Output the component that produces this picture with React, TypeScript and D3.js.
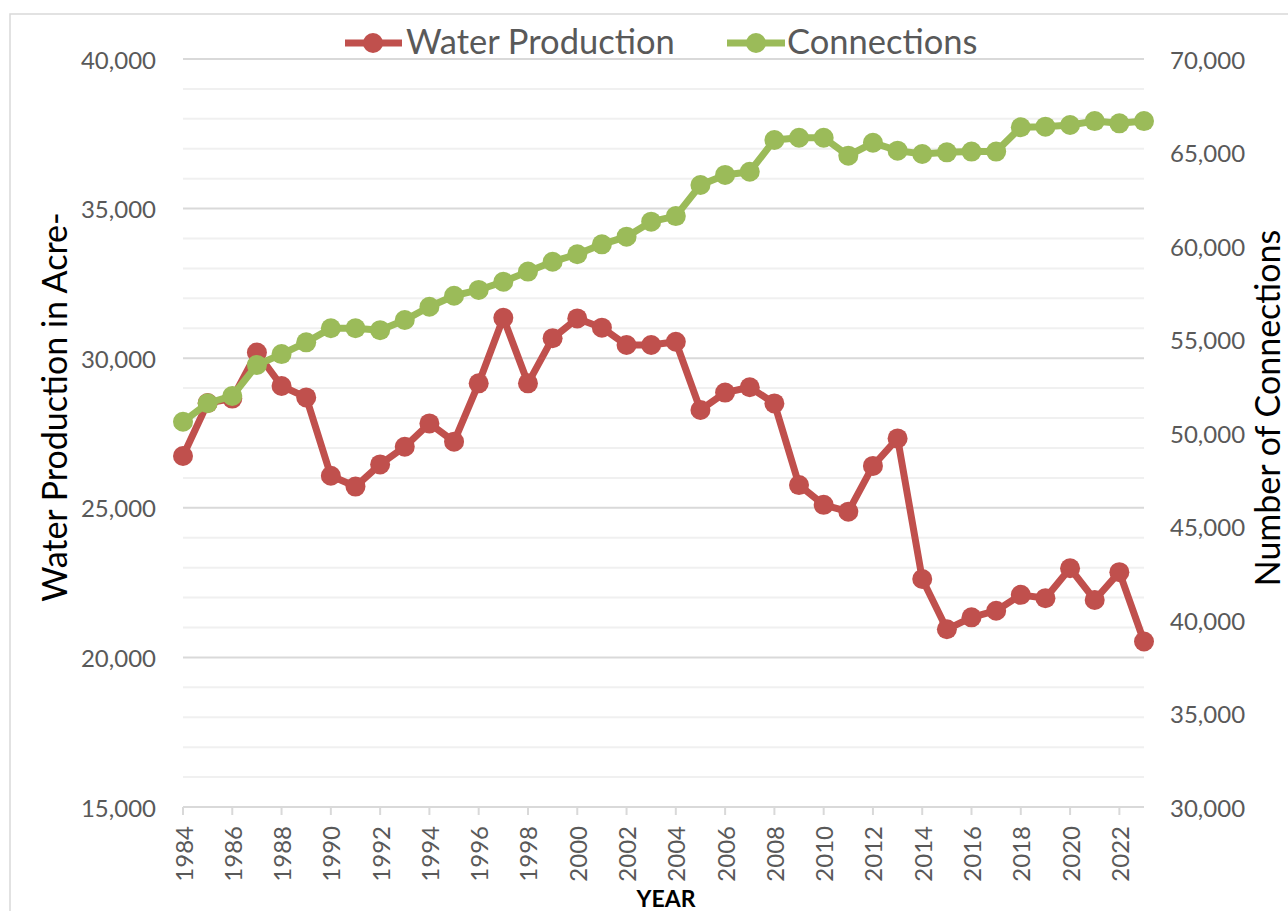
import React from "react";
import * as d3 from "d3";

const years = [
  1984, 1985, 1986, 1987, 1988, 1989, 1990, 1991, 1992, 1993,
  1994, 1995, 1996, 1997, 1998, 1999, 2000, 2001, 2002, 2003,
  2004, 2005, 2006, 2007, 2008, 2009, 2010, 2011, 2012, 2013,
  2014, 2015, 2016, 2017, 2018, 2019, 2020, 2021, 2022, 2023,
];

const waterProduction = [
  26730, 28500, 28650, 30190, 29070, 28690, 26070, 25710, 26450, 27040,
  27820, 27210, 29160, 31350, 29160, 30670, 31330, 31020, 30440, 30440,
  30550, 28270, 28850, 29030, 28490, 25760, 25100, 24870, 26400, 27320,
  22620, 20940, 21340, 21560, 22090, 21980, 22980, 21920, 22850, 20530,
];

const connections = [
  50600, 51590, 51980, 53640, 54220, 54850, 55600, 55600, 55500, 56040,
  56750, 57340, 57650, 58090, 58630, 59160, 59560, 60090, 60500, 61300,
  61600, 63260, 63800, 63970, 65670, 65790, 65790, 64830, 65520, 65100,
  64920, 65010, 65050, 65050, 66350, 66380, 66470, 66680, 66560, 66680,
];

const leftTicks = [15000, 20000, 25000, 30000, 35000, 40000];
const rightTicks = [30000, 35000, 40000, 45000, 50000, 55000, 60000, 65000, 70000];
const xTickYears = [1984, 1986, 1988, 1990, 1992, 1994, 1996, 1998, 2000, 2002, 2004, 2006, 2008, 2010, 2012, 2014, 2016, 2018, 2020, 2022];

const seriesNames = ["Water Production", "Connections"];
const leftTitle = "Water Production in Acre-";
const rightTitle = "Number of Connections";
const xTitle = "YEAR";

const RED = "#C0504D";
const GREEN = "#9BBB59";
const TICK_COLOR = "#595959";
const FONT = "Lato, 'Open Sans', 'Liberation Sans', sans-serif";

export default function App() {
  const W = 1288;
  const H = 911;
  const left = 183;
  const right = 1144;
  const top = 59;
  const bottom = 807;

  const x = d3.scaleLinear().domain([1984, 2023]).range([left, right]);
  const yL = d3.scaleLinear().domain([15000, 40000]).range([bottom, top]);
  const yR = d3.scaleLinear().domain([30000, 70000]).range([bottom, top]);

  const grid = d3.range(15000, 40001, 1000);
  const fmt = d3.format(",");

  const lineL = d3
    .line<number>()
    .x((_, i) => x(years[i]))
    .y((d) => yL(d));
  const lineR = d3
    .line<number>()
    .x((_, i) => x(years[i]))
    .y((d) => yR(d));

  return (
    <svg
      width={W}
      height={H}
      style={{ position: "absolute", left: 0, top: 0, background: "#fff" }}
      fontFamily={FONT}
    >
      <rect x={0} y={0} width={W} height={H} fill="#fff" />
      <rect x={10} y={14} width={W + 20} height={H + 20} fill="#fff" stroke="#D9D9D9" strokeWidth={1.5} />

      {/* gridlines */}
      {grid.map((v) => (
        <line
          key={v}
          x1={left}
          x2={right}
          y1={yL(v)}
          y2={yL(v)}
          stroke={v % 5000 === 0 ? "#D9D9D9" : "#F0F0F0"}
          strokeWidth={2}
        />
      ))}

      {/* x tick marks */}
      {xTickYears.map((yr) => (
        <line key={yr} x1={x(yr)} x2={x(yr)} y1={bottom} y2={bottom + 8} stroke="#D9D9D9" strokeWidth={2} />
      ))}

      {/* left tick labels */}
      {leftTicks.map((v) => (
        <text key={v} x={156} y={yL(v)} textAnchor="end" dominantBaseline="central" fontSize={24} fill={TICK_COLOR}>
          {fmt(v)}
        </text>
      ))}

      {/* right tick labels */}
      {rightTicks.map((v) => (
        <text key={v} x={1170} y={yR(v)} textAnchor="start" dominantBaseline="central" fontSize={24} fill={TICK_COLOR}>
          {fmt(v)}
        </text>
      ))}

      {/* x tick labels */}
      {xTickYears.map((yr) => (
        <text
          key={yr}
          transform={`translate(${x(yr)},${bottom + 19}) rotate(-90)`}
          textAnchor="end"
          dominantBaseline="central"
          fontSize={24}
          fill={TICK_COLOR}
        >
          {yr}
        </text>
      ))}

      {/* axis titles */}
      <text transform={`translate(67,407) rotate(-90)`} textAnchor="middle" fontSize={34} fill="#000">
        {leftTitle}
      </text>
      <text transform={`translate(1280,408) rotate(-90)`} textAnchor="middle" fontSize={34} fill="#000">
        {rightTitle}
      </text>
      <text x={666} y={907} textAnchor="middle" fontSize={23} fontWeight="bold" fill="#000">
        {xTitle}
      </text>

      {/* water production */}
      <path d={lineL(waterProduction) || ""} fill="none" stroke={RED} strokeWidth={7} strokeLinejoin="round" />
      {waterProduction.map((v, i) => (
        <circle key={i} cx={x(years[i])} cy={yL(v)} r={10} fill={RED} />
      ))}

      {/* connections */}
      <path d={lineR(connections) || ""} fill="none" stroke={GREEN} strokeWidth={7} strokeLinejoin="round" />
      {connections.map((v, i) => (
        <circle key={i} cx={x(years[i])} cy={yR(v)} r={10} fill={GREEN} />
      ))}

      {/* legend */}
      <g>
        <line x1={345} x2={402} y1={43} y2={43} stroke={RED} strokeWidth={7} />
        <circle cx={373} cy={43} r={10} fill={RED} />
        <text x={406} y={54} fontSize={34.5} fill={TICK_COLOR}>
          {seriesNames[0]}
        </text>
        <line x1={727} x2={785} y1={43} y2={43} stroke={GREEN} strokeWidth={7} />
        <circle cx={756} cy={43} r={10} fill={GREEN} />
        <text x={787} y={54} fontSize={34.5} fill={TICK_COLOR}>
          {seriesNames[1]}
        </text>
      </g>
    </svg>
  );
}
